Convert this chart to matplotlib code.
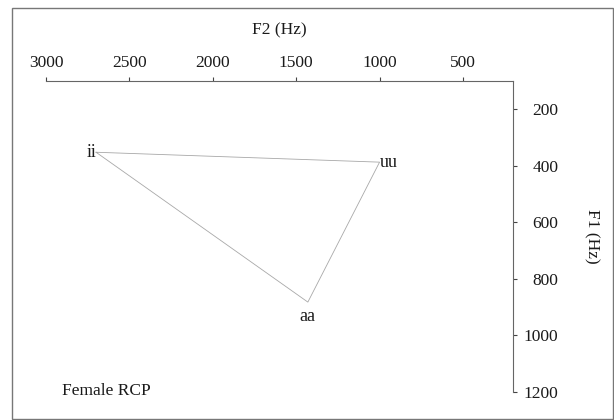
import matplotlib
matplotlib.use("Agg")
import matplotlib.pyplot as plt
from matplotlib.patches import Rectangle

plt.rcParams['font.family'] = ['Liberation Serif', 'DejaVu Serif']

vowels = ["ii", "uu", "aa"]
f2 = [2700, 1000, 1430]
f1 = [352, 387, 882]

x_ticks = [3000, 2500, 2000, 1500, 1000, 500]
y_ticks = [200, 400, 600, 800, 1000, 1200]

fig = plt.figure(figsize=(6.14, 4.20), dpi=100)
ax = fig.add_axes([46/614, 1 - 392/420, (513 - 46)/614, (392 - 81)/420])

# triangle
ax.plot(f2 + [f2[0]], f1 + [f1[0]], color="#a8a8a8", lw=0.6)

# labels next to the vertices
ax.text(f2[0], f1[0], vowels[0], ha="right", va="center", fontsize=13, color="#1a1a1a")
ax.text(f2[1], f1[1], vowels[1], ha="left", va="center", fontsize=13, color="#1a1a1a")
ax.text(f2[2], f1[2] + 20, vowels[2], ha="center", va="top", fontsize=13, color="#1a1a1a")

ax.set_xlim(3000, 200)
ax.set_ylim(1200, 100)
ax.set_xticks(x_ticks)
ax.set_yticks(y_ticks)
ax.xaxis.tick_top()
ax.yaxis.tick_right()
ax.xaxis.set_label_position("top")
ax.yaxis.set_label_position("right")
for s in ["left", "bottom"]:
    ax.spines[s].set_visible(False)
for s in ["top", "right"]:
    ax.spines[s].set_color("#666666")
    ax.spines[s].set_linewidth(0.8)
ax.tick_params(direction="out", length=3, width=0.8, color="#444444",
               labelsize=12.5, labelcolor="#1a1a1a")
ax.tick_params(axis="x", pad=4)
ax.tick_params(axis="y", pad=29.5)
for lab in ax.get_yticklabels():
    lab.set_ha("right")
ax.set_xlabel("F2 (Hz)", fontsize=12.5, color="#1a1a1a", labelpad=15)
ax.set_ylabel("F1 (Hz)", fontsize=12.5, color="#1a1a1a", rotation=270, labelpad=30)

fig.text(62/614, 1 - 391/420, "Female RCP", fontsize=12.5, color="#1a1a1a",
         ha="left", va="center")

# frame round the whole picture
fig.patches.append(Rectangle((12/614, 0.002), 1 - 12/614 - 0.002, 1 - 8/420 - 0.002,
                             transform=fig.transFigure, fill=False,
                             edgecolor="#777777", lw=1.0))

fig.savefig("out.png", dpi=100)
